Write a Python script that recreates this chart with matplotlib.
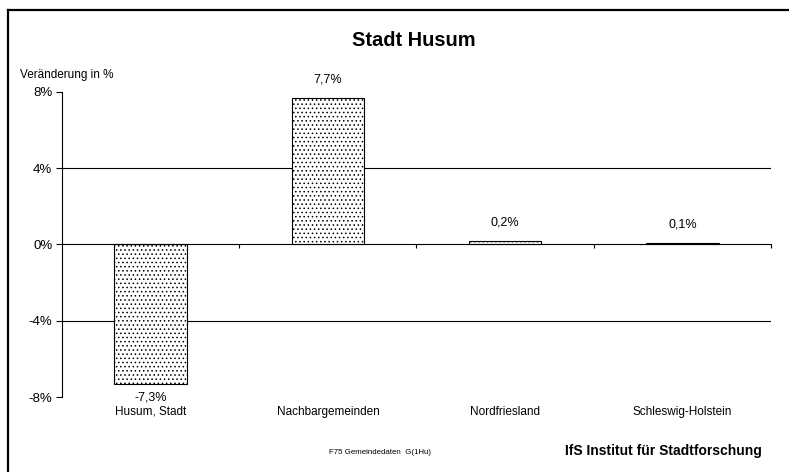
import matplotlib.pyplot as plt
from matplotlib.lines import Line2D

plt.rcParams['font.family'] = ['Liberation Sans', 'DejaVu Sans']
plt.rcParams['hatch.linewidth'] = 0.6

categories = ['Husum, Stadt', 'Nachbargemeinden', 'Nordfriesland', 'Schleswig-Holstein']
values = [-7.3, 7.7, 0.2, 0.1]
yticks = [-8, -4, 0, 4, 8]

fig = plt.figure(figsize=(7.89, 4.72), dpi=100)
ax = fig.add_axes([62 / 789, 1 - 397 / 472, (771 - 62) / 789, (397 - 92) / 472])

x = list(range(len(categories)))
ax.bar(x, values, width=0.41, color='white', edgecolor='black', linewidth=0.8,
       hatch='....', zorder=3)

ax.set_xlim(-0.5, len(categories) - 0.5)
ax.set_ylim(-8, 8)

# gridlines at +-4 only
for g in (-4, 4):
    ax.axhline(g, color='black', lw=0.8, zorder=1)

ax.spines['top'].set_visible(False)
ax.spines['right'].set_visible(False)
ax.spines['bottom'].set_position(('data', 0))
ax.spines['left'].set_linewidth(0.8)
ax.spines['bottom'].set_linewidth(0.8)
ax.spines['bottom'].set_zorder(4)

ax.set_xticks([i + 0.5 for i in x])
ax.set_xticklabels([])
ax.tick_params(axis='x', direction='out', length=3, width=0.8)
ax.set_yticks(yticks)
ax.set_yticklabels([f'{t}%' for t in yticks], fontsize=9.5)
ax.tick_params(axis='y', direction='out', length=4, width=0.8, pad=3)

for i, v in enumerate(values):
    label = f'{v:.1f}%'.replace('.', ',')
    if v >= 0:
        ax.annotate(label, (i, v), xytext=(0, 12), textcoords='offset pixels',
                    ha='center', va='bottom', fontsize=9)
    else:
        ax.annotate(label, (i, v), xytext=(0, -8), textcoords='offset pixels',
                    ha='center', va='top', fontsize=9)
    ax.annotate(categories[i], (i, -8), xytext=(0, -9), textcoords='offset pixels',
                ha='center', va='top', fontsize=8.5)

fig.text(20 / 789, 1 - 75 / 472, 'Veränderung in %', fontsize=8.5, va='center', ha='left')
fig.text(414 / 789, 1 - 41 / 472, 'Stadt Husum', fontsize=14.4, fontweight='bold',
         ha='center', va='center')
fig.text(380 / 789, 1 - 452 / 472, 'F75 Gemeindedaten  G(1Hu)', fontsize=5.7,
         ha='center', va='center')
fig.text(762 / 789, 1 - 451 / 472, 'IfS Institut für Stadtforschung', fontsize=10,
         fontweight='bold', ha='right', va='center')

# outer frame (left and top edges visible)
fig.add_artist(Line2D([8 / 789, 8 / 789], [0, 1 - 10 / 472], color='black', lw=1.6,
                      transform=fig.transFigure))
fig.add_artist(Line2D([8 / 789, 1], [1 - 10 / 472, 1 - 10 / 472], color='black', lw=1.6,
                      transform=fig.transFigure))

fig.savefig('out.png', dpi=100)
